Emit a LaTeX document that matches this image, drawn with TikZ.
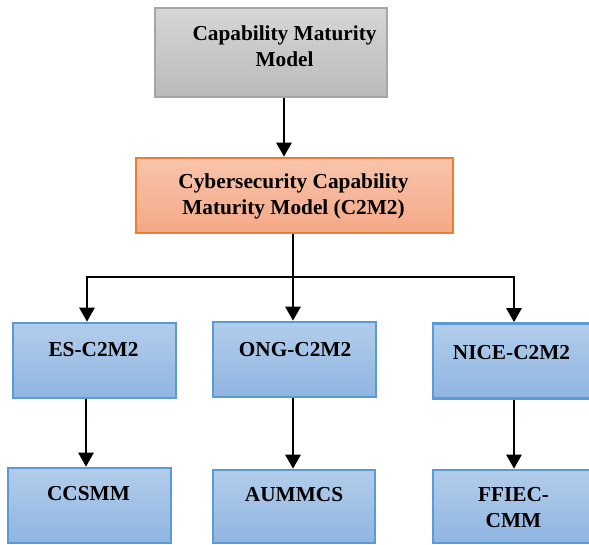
\documentclass[tikz,border=0pt]{standalone}
\usepackage{fontspec}
\setmainfont{Liberation Serif}
\usetikzlibrary{arrows.meta}
\tikzset{
  box/.style={draw, line width=2.6pt, rectangle, inner sep=0pt},
  graybox/.style={box, draw=black!35, top color=black!16, bottom color=black!27},
  orangebox/.style={box, draw={rgb,255:red,237;green,125;blue,49}, top color={rgb,255:red,248;green,196;blue,172}, bottom color={rgb,255:red,244;green,168;blue,134}},
  bluebox/.style={box, draw={rgb,255:red,91;green,155;blue,213}, top color={rgb,255:red,178;green,205;blue,235}, bottom color={rgb,255:red,143;green,181;blue,224}},
  lbl/.style={inner sep=0pt, align=center, font=\fontsize{21.3pt}{26pt}\selectfont\bfseries},
  arr/.style={line width=2.7pt, -{Triangle[length=14pt,width=15pt]}},
  ln/.style={line width=2.7pt}
}
\begin{document}
\begin{tikzpicture}[x=1pt,y=-1pt]
\useasboundingbox (0,0) rectangle (589,544);
\clip (0,0) rectangle (589,544);
\fill[white] (0,0) rectangle (589,544);
% boxes
\node[graybox, minimum width=232pt, minimum height=89pt] (cmm) at (271,52.5) {};
\node[orangebox, minimum width=317pt, minimum height=75pt] (c2) at (294.5,195.5) {};
\node[bluebox, minimum width=163pt, minimum height=75pt] (es) at (94.5,360.5) {};
\node[bluebox, minimum width=163pt, minimum height=75pt] (ong) at (294.5,359.5) {};
\node[bluebox, minimum width=163pt, minimum height=75pt] (nice) at (514.5,361) {};
\node[bluebox, minimum width=163pt, minimum height=75pt] (cc) at (89.5,505.5) {};
\node[bluebox, minimum width=162pt, minimum height=73pt] (au) at (294,506.5) {};
\node[bluebox, minimum width=163pt, minimum height=73pt] (ff) at (514.5,506.5) {};
% labels
\node[lbl] (cmmL) at (284.5,46) {Capability Maturity\\Model};
\node[lbl] (c2L) at (293.5,196) {Cybersecurity Capability\\Maturity Model (C2M2)};
\node[lbl] (esL) at (93.5,350) {ES-C2M2};
\node[lbl] (ongL) at (295,350) {ONG-C2M2};
\node[lbl] (niceL) at (511.5,353) {NICE-C2M2};
\node[lbl] (ccL) at (88.5,494) {CCSMM};
\node[lbl] (auL) at (294,495) {AUMMCS};
\node[lbl] (ffL) at (513.5,507.5) {FFIEC-\\CMM};
% connectors
\coordinate (jc) at (293,277);
\coordinate (jl) at (87,277);
\coordinate (jr) at (514,277);
\draw[arr] (cmm.south -| 284,0) -- (c2.north -| 284,0);
\draw[ln] (c2.south -| jc) -- (jc);
\draw[ln] ([xshift=-1.35pt]jl) -- ([xshift=1.35pt]jr);
\draw[arr] (jl) -- (es.north -| jl);
\draw[arr] (jc) -- (ong.north -| jc);
\draw[arr] (jr) -- (nice.north -| jr);
\draw[arr] (es.south -| 86,0) -- (cc.north -| 86,0);
\draw[arr] (ong.south -| 293,0) -- (au.north -| 293,0);
\draw[arr] (nice.south -| 514,0) -- (ff.north -| 514,0);
\end{tikzpicture}
\end{document}
